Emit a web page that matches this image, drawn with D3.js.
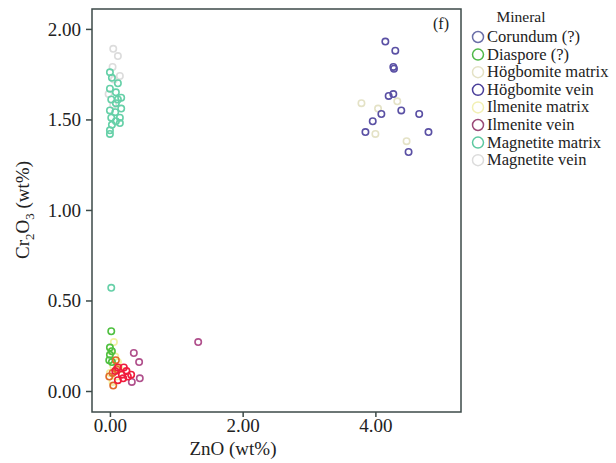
<!DOCTYPE html>
<meta charset="utf-8">
<script src="https://d3js.org/d3.v7.min.js"></script>
<style>
  body { margin: 0; background: #fff; }
  text { font-family: "Liberation Serif", "DejaVu Serif", serif; fill: #222; }
</style>
<div id="chart"></div>
<script>
  // legend categories and their colours
  var minerals = ["Corundum (?)", "Diaspore (?)", "Högbomite matrix", "Högbomite vein",
    "Ilmenite matrix", "Ilmenite vein", "Magnetite matrix", "Magnetite vein"];
  var mineralColors = ["#6b6fa8", "#4fb848", "#e4e2c6", "#4a3f9a",
    "#f2f0b4", "#9a4a78", "#5cc8a0", "#dcdcdc"];

  var xTicks = [0, 2, 4];
  var yTicks = [0, 0.5, 1, 1.5, 2];

  // [ZnO, Cr2O3] pairs
  var hogbomiteVein = [[4.15, 1.93], [4.30, 1.88], [4.27, 1.79], [4.28, 1.78], [4.20, 1.63],
    [4.27, 1.64], [4.39, 1.55], [4.09, 1.53], [4.66, 1.53], [3.96, 1.49], [3.85, 1.43],
    [4.80, 1.43], [4.50, 1.32]];
  var hogbomiteMatrix = [[3.79, 1.59], [4.04, 1.56], [4.33, 1.60], [4.00, 1.42], [4.47, 1.38]];
  var magnetiteMatrix = [[0.00, 1.76], [0.03, 1.73], [0.12, 1.70], [0.00, 1.67], [0.09, 1.65],
    [0.17, 1.62], [0.02, 1.61], [0.09, 1.59], [0.17, 1.56], [0.00, 1.55], [0.08, 1.54],
    [0.15, 1.51], [0.02, 1.51], [0.09, 1.49], [0.03, 1.47], [0.00, 1.44], [0.00, 1.42],
    [0.15, 1.48], [0.12, 1.61], [0.02, 0.57]];
  var magnetiteVein = [[0.05, 1.89], [0.12, 1.85], [0.04, 1.79], [0.15, 1.74], [0.06, 1.72],
    [-0.02, 1.64], [0.05, 1.58]];
  var diaspore = [[0.02, 0.33], [0.00, 0.24], [0.03, 0.22], [0.00, 0.20], [-0.01, 0.17], [0.03, 0.16]];
  var ilmeniteMatrix = [[0.02, 0.22], [0.08, 0.19], [0.05, 0.14], [0.12, 0.16], [0.00, 0.10],
    [0.10, 0.08], [0.04, 0.05], [0.15, 0.12], [0.06, 0.27]];
  var ilmeniteVein = [[0.36, 0.21], [0.44, 0.16], [0.45, 0.07], [0.33, 0.05], [1.33, 0.27]];
  var ilmeniteVeinOrange = [[0.09, 0.17], [-0.01, 0.08], [0.05, 0.03], [0.10, 0.12], [0.04, 0.10]];
  var ilmeniteVeinRed = [[0.12, 0.13], [0.21, 0.13], [0.25, 0.11], [0.18, 0.09], [0.27, 0.08],
    [0.12, 0.06], [0.32, 0.09], [0.08, 0.11], [0.20, 0.07]];

  var layers = [
    { data: hogbomiteMatrix, color: "#e4e2c6" },
    { data: magnetiteVein, color: "#dcdcdc" },
    { data: magnetiteMatrix, color: "#66d0a8" },
    { data: ilmeniteMatrix, color: "#f2f0a0" },
    { data: diaspore, color: "#4fc040" },
    { data: ilmeniteVein, color: "#b0508c" },
    { data: ilmeniteVeinOrange, color: "#e06a28" },
    { data: ilmeniteVeinRed, color: "#f01c3c" },
    { data: hogbomiteVein, color: "#5a50a4" }
  ];

  var margin = { top: 9, right: 155, bottom: 51, left: 92 },
    width = 616 - margin.left - margin.right,
    height = 463 - margin.top - margin.bottom;

  var svg = d3.select("#chart")
    .append("svg")
    .attr("width", 616)
    .attr("height", 463);

  var g = svg.append("g")
    .attr("transform", "translate(" + margin.left + "," + margin.top + ")");

  var x = d3.scaleLinear().domain([-0.27, 5.29]).range([0, width]);
  var y = d3.scaleLinear().domain([-0.116, 2.11]).range([height, 0]);

  // points
  layers.forEach(function (l) {
    g.append("g").selectAll("circle")
      .data(l.data)
      .enter()
      .append("circle")
      .attr("cx", function (d) { return x(d[0]); })
      .attr("cy", function (d) { return y(d[1]); })
      .attr("r", 3.2)
      .attr("fill", "none")
      .attr("stroke", l.color)
      .attr("stroke-width", 1.6);
  });

  // frame
  g.append("rect")
    .attr("width", width)
    .attr("height", height)
    .attr("fill", "none")
    .attr("stroke", "#3c4a48")
    .attr("stroke-width", 1.5);

  var xAxis = g.append("g")
    .attr("transform", "translate(0," + height + ")")
    .call(d3.axisBottom(x).tickValues(xTicks).tickFormat(d3.format(".2f")).tickSize(5).tickPadding(2));
  var yAxis = g.append("g")
    .call(d3.axisLeft(y).tickValues(yTicks).tickFormat(d3.format(".2f")).tickSize(6).tickPadding(5));
  [xAxis, yAxis].forEach(function (a) {
    a.select(".domain").remove();
    a.selectAll("line").attr("stroke", "#3c4a48").attr("stroke-width", 1.5);
    a.selectAll("text").attr("font-size", 19).attr("fill", "#222")
      .style("font-family", "Liberation Serif");
  });

  // axis titles
  svg.append("text")
    .attr("x", 233)
    .attr("y", 455)
    .attr("text-anchor", "middle")
    .attr("font-size", 19)
    .text("ZnO (wt%)");

  var yl = svg.append("text")
    .attr("transform", "translate(29,210) rotate(-90)")
    .attr("text-anchor", "middle")
    .attr("font-size", 19);
  yl.append("tspan").text("Cr");
  yl.append("tspan").attr("font-size", 13).attr("dy", 5).text("2");
  yl.append("tspan").attr("dy", -5).text("O");
  yl.append("tspan").attr("font-size", 13).attr("dy", 5).text("3");
  yl.append("tspan").attr("dy", -5).text(" (wt%)");

  // panel tag
  g.append("text")
    .attr("x", width - 12)
    .attr("y", 20)
    .attr("text-anchor", "end")
    .attr("font-size", 16)
    .text("(f)");

  // legend
  var legend = svg.append("g").attr("transform", "translate(478,0)");
  legend.append("text")
    .attr("x", 43)
    .attr("y", 22)
    .attr("text-anchor", "middle")
    .attr("font-size", 15.5)
    .text("Mineral");
  var items = legend.selectAll("g.item")
    .data(minerals)
    .enter()
    .append("g")
    .attr("class", "item")
    .attr("transform", function (d, i) { return "translate(0," + (37 + i * 17.6) + ")"; });
  items.append("circle")
    .attr("r", 5.5)
    .attr("fill", "none")
    .attr("stroke", function (d, i) { return mineralColors[i]; })
    .attr("stroke-width", 1.5);
  items.append("text")
    .attr("x", 9)
    .attr("y", 5)
    .attr("font-size", 16.5)
    .text(function (d) { return d; });
</script>
